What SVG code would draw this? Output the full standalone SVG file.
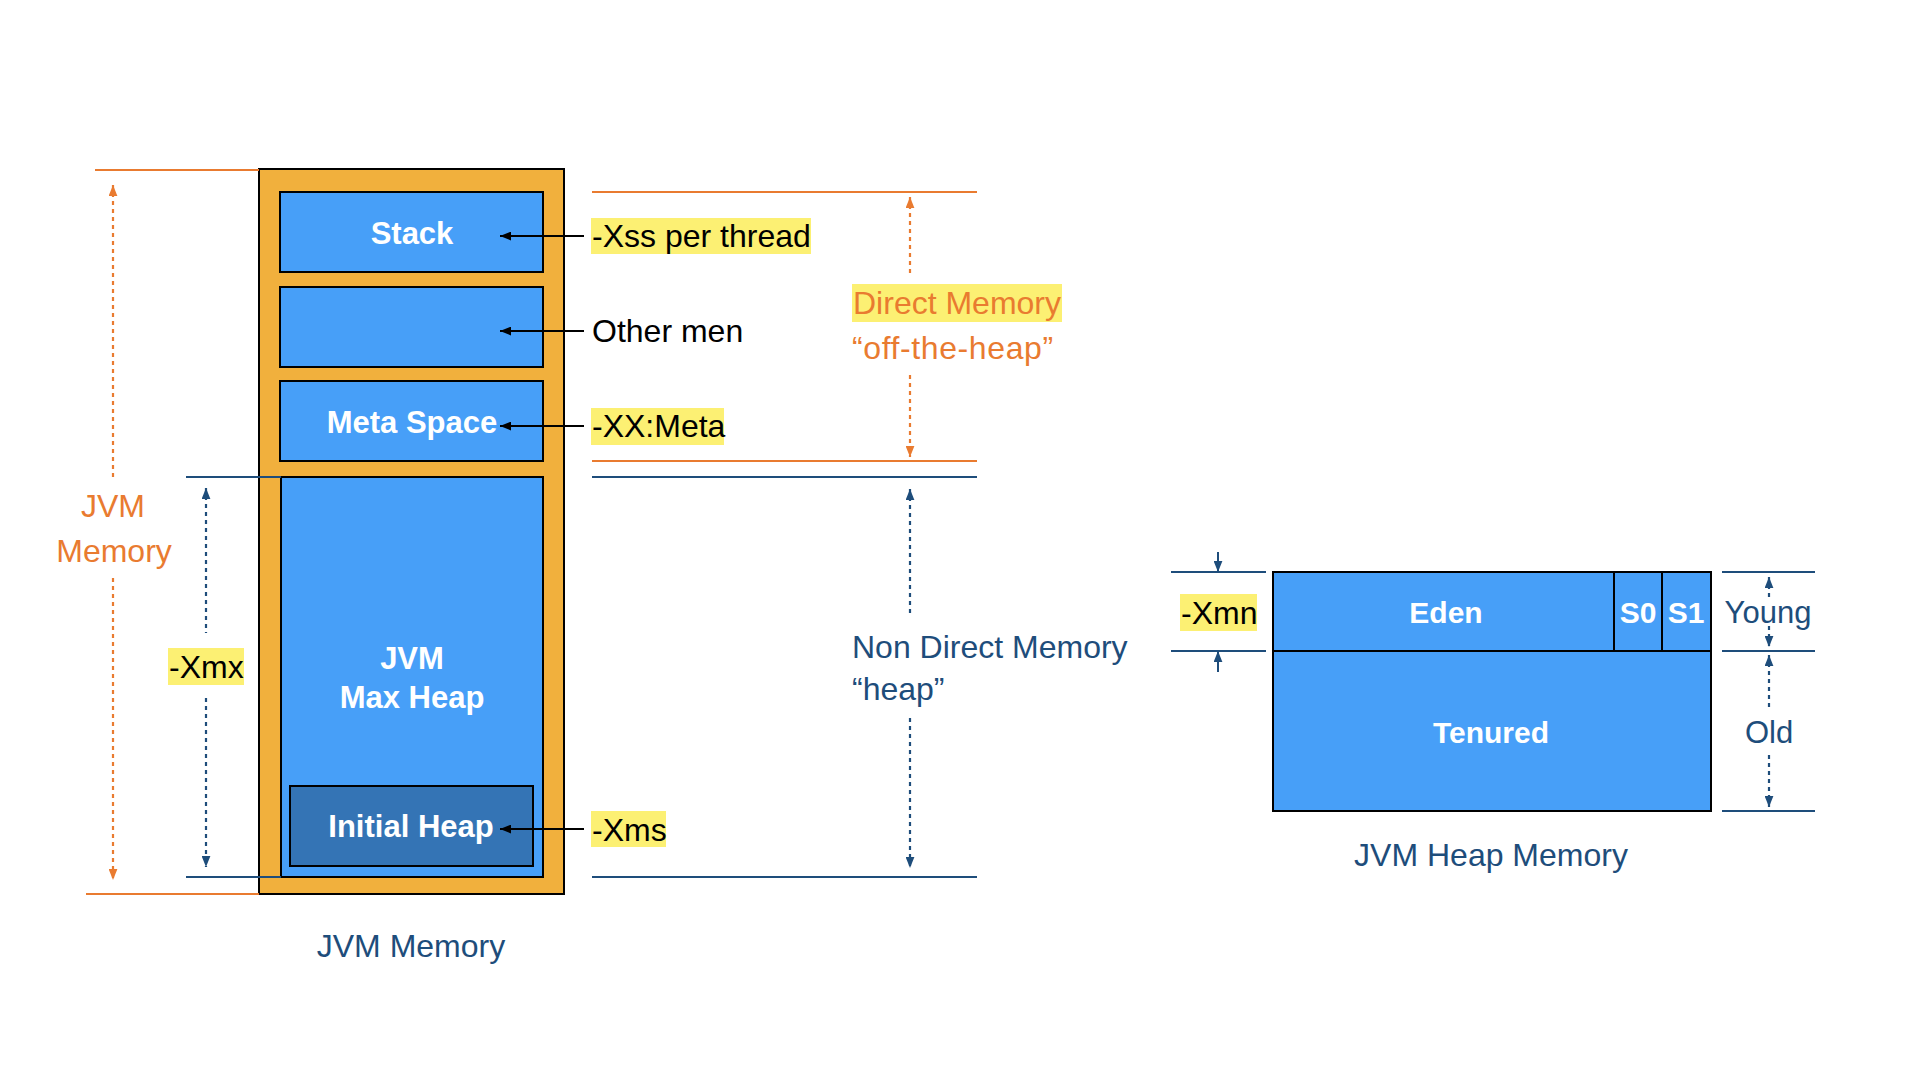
<svg xmlns="http://www.w3.org/2000/svg" width="1920" height="1080" viewBox="0 0 1920 1080">
<defs>
<style>
.t{font-family:"Liberation Sans",Arial,sans-serif}
.wb{font-family:"Liberation Sans",Arial,sans-serif;font-weight:bold;fill:#FFFFFF;font-size:31px;text-anchor:middle}
.lbl{font-size:32px;fill:#000000}
.or{fill:#E97B30}
.db{fill:#1E4D7B}
.hl{fill:#FCF073}
.box{fill:#479FF8;stroke:#000000;stroke-width:2}
.ibox{fill:#3474B5;stroke:#000000;stroke-width:2}
.outer{fill:#F1B03D;stroke:#000000;stroke-width:2}
.lo{stroke:#E97B30;stroke-width:2;fill:none}
.lb{stroke:#1E4D7B;stroke-width:2;fill:none}
.do{stroke:#E97B30;stroke-width:2.2;stroke-dasharray:4 4;fill:none}
.dbl{stroke:#1E4D7B;stroke-width:2.2;stroke-dasharray:4 4;fill:none}
.ak{stroke:#000000;stroke-width:2;fill:none}
</style>
<marker id="mo" viewBox="0 0 10 8" refX="10" refY="4" markerWidth="11" markerHeight="9" markerUnits="userSpaceOnUse" orient="auto-start-reverse"><path d="M0,0 L10,4 L0,8 z" fill="#E97B30"/></marker>
<marker id="mb" viewBox="0 0 10 8" refX="10" refY="4" markerWidth="11" markerHeight="9" markerUnits="userSpaceOnUse" orient="auto-start-reverse"><path d="M0,0 L10,4 L0,8 z" fill="#1E4D7B"/></marker>
<marker id="mk" viewBox="0 0 10 8" refX="10" refY="4" markerWidth="11" markerHeight="9" markerUnits="userSpaceOnUse" orient="auto-start-reverse"><path d="M0,0 L10,4 L0,8 z" fill="#000000"/></marker>
</defs>
<rect width="1920" height="1080" fill="#FFFFFF"/>

<g id="jvm-memory">
<rect class="outer" x="259" y="169" width="305" height="725"/>
</g>
<g id="stack">
<rect class="box" x="280" y="192" width="263" height="80"/>
<text class="wb" x="412" y="244">Stack</text>
</g>
<g id="other">
<rect class="box" x="280" y="287" width="263" height="80"/>
</g>
<g id="meta-space">
<rect class="box" x="280" y="381" width="263" height="80"/>
<text class="wb" x="412" y="433">Meta Space</text>
</g>
<g id="max-heap">
<rect class="box" x="281" y="477" width="262" height="400"/>
<text class="wb" x="412" y="669">JVM</text>
<text class="wb" x="412" y="708">Max Heap</text>
</g>
<g id="initial-heap">
<rect class="ibox" x="290" y="786" width="243" height="80"/>
<text class="wb" x="411" y="837">Initial Heap</text>
</g>

<g id="label-xss">
<rect class="hl" x="591" y="218" width="220" height="36"/>
<text class="t lbl" x="592" y="247">-Xss per thread</text>
</g>
<g id="label-other">
<text class="t lbl" x="592" y="342">Other men</text>
</g>
<g id="label-meta">
<rect class="hl" x="591" y="408" width="133" height="37"/>
<text class="t lbl" x="592" y="437">-XX:Meta</text>
</g>
<g id="label-xms">
<rect class="hl" x="591" y="811" width="75" height="36"/>
<text class="t lbl" x="592" y="841">-Xms</text>
</g>
<g id="label-jvm-memory-side">
<text class="t or" font-size="32" text-anchor="middle" x="113" y="517">JVM</text>
<text class="t or" font-size="32" text-anchor="middle" x="114" y="562">Memory</text>
</g>
<g id="label-xmx">
<rect class="hl" x="168" y="648" width="76" height="37"/>
<text class="t lbl" x="169" y="678">-Xmx</text>
</g>
<g id="label-direct">
<rect class="hl" x="852" y="284" width="210" height="38"/>
<text class="t or" font-size="32" x="853" y="314">Direct Memory</text>
<text class="t or" font-size="32" x="852" y="359" letter-spacing="0.6">“off-the-heap”</text>
</g>
<g id="label-nondirect">
<text class="t db" font-size="32" x="852" y="658">Non Direct Memory</text>
<text class="t db" font-size="32" x="852" y="700">“heap”</text>
</g>
<g id="caption-left">
<text class="t db" font-size="32" text-anchor="middle" x="411" y="957">JVM Memory</text>
</g>

<g id="eden">
<rect class="box" x="1273" y="572" width="341" height="79"/>
<text class="wb" x="1446" y="623" style="font-size:30px">Eden</text>
</g>
<g id="s0">
<rect class="box" x="1614" y="572" width="48" height="79"/>
<text class="wb" x="1638" y="623" style="font-size:30px">S0</text>
</g>
<g id="s1">
<rect class="box" x="1662" y="572" width="49" height="79"/>
<text class="wb" x="1686" y="623" style="font-size:30px">S1</text>
</g>
<g id="tenured">
<rect class="box" x="1273" y="651" width="438" height="160"/>
<text class="wb" x="1491" y="743" style="font-size:30px">Tenured</text>
</g>
<g id="label-xmn">
<rect class="hl" x="1180" y="594" width="77" height="37"/>
<text class="t lbl" x="1181" y="624">-Xmn</text>
</g>
<g id="label-young">
<text class="t db" font-size="31" text-anchor="middle" x="1768" y="623">Young</text>
</g>
<g id="label-old">
<text class="t db" font-size="31" text-anchor="middle" x="1769" y="743">Old</text>
</g>
<g id="caption-right">
<text class="t db" font-size="32" text-anchor="middle" x="1491" y="866">JVM Heap Memory</text>
</g>

<g id="connectors">
<line class="lo" x1="95" y1="170" x2="259" y2="170"/>
<line class="lo" x1="86" y1="894" x2="259" y2="894"/>
<line class="do" x1="113" y1="185" x2="113" y2="478" marker-start="url(#mo)"/>
<line class="do" x1="113" y1="578" x2="113" y2="880" marker-end="url(#mo)"/>
<line class="lb" x1="186" y1="477" x2="281" y2="477"/>
<line class="lb" x1="186" y1="877" x2="281" y2="877"/>
<line class="dbl" x1="206" y1="488" x2="206" y2="633" marker-start="url(#mb)"/>
<line class="dbl" x1="206" y1="698" x2="206" y2="867" marker-end="url(#mb)"/>
<line class="ak" x1="584" y1="236" x2="500" y2="236" marker-end="url(#mk)"/>
<line class="ak" x1="584" y1="331" x2="500" y2="331" marker-end="url(#mk)"/>
<line class="ak" x1="584" y1="426" x2="500" y2="426" marker-end="url(#mk)"/>
<line class="ak" x1="584" y1="829" x2="500" y2="829" marker-end="url(#mk)"/>
<line class="lo" x1="592" y1="192" x2="977" y2="192"/>
<line class="lo" x1="592" y1="461" x2="977" y2="461"/>
<line class="do" x1="910" y1="197" x2="910" y2="277" marker-start="url(#mo)"/>
<line class="do" x1="910" y1="375" x2="910" y2="457" marker-end="url(#mo)"/>
<line class="lb" x1="592" y1="477" x2="977" y2="477"/>
<line class="lb" x1="592" y1="877" x2="977" y2="877"/>
<line class="dbl" x1="910" y1="489" x2="910" y2="613" marker-start="url(#mb)"/>
<line class="dbl" x1="910" y1="718" x2="910" y2="868" marker-end="url(#mb)"/>
<line class="lb" x1="1171" y1="572" x2="1266" y2="572"/>
<line class="lb" x1="1171" y1="651" x2="1266" y2="651"/>
<line class="lb" x1="1218" y1="552" x2="1218" y2="572" marker-end="url(#mb)"/>
<line class="lb" x1="1218" y1="672" x2="1218" y2="651" marker-end="url(#mb)"/>
<line class="lb" x1="1722" y1="572" x2="1815" y2="572"/>
<line class="lb" x1="1722" y1="651" x2="1815" y2="651"/>
<line class="lb" x1="1722" y1="811" x2="1815" y2="811"/>
<line class="dbl" x1="1769" y1="577" x2="1769" y2="598" marker-start="url(#mb)"/>
<line class="dbl" x1="1769" y1="626" x2="1769" y2="647" marker-end="url(#mb)"/>
<line class="dbl" x1="1769" y1="655" x2="1769" y2="707" marker-start="url(#mb)"/>
<line class="dbl" x1="1769" y1="755" x2="1769" y2="807" marker-end="url(#mb)"/>
</g>
</svg>
